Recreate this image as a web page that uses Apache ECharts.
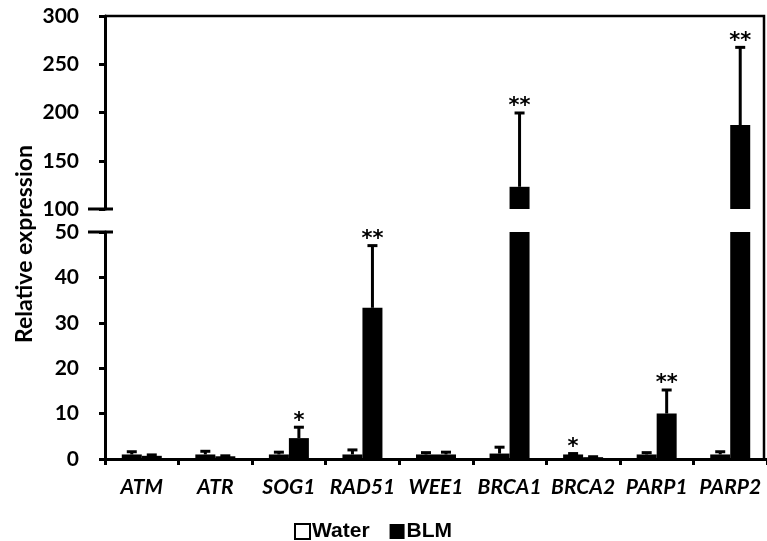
<!DOCTYPE html>
<html>
<head>
<meta charset="utf-8">
<script src="https://cdn.jsdelivr.net/npm/echarts@6/dist/echarts.min.js"></script>
<style>html,body{margin:0;padding:0;background:#fff}#c{width:767px;height:541px}</style>
</head>
<body>
<div id="c"></div>
<script>
// ---- data ----
const categories = ['ATM','ATR','SOG1','RAD51','WEE1','BRCA1','BRCA2','PARP1','PARP2'];
const waterMean = [1.0, 1.0, 1.0, 1.0, 1.0, 1.2, 1.0, 1.0, 1.0];
const waterErr  = [0.6, 0.7, 0.5, 1.0, 0.4, 1.4, 0.2, 0.4, 0.6];
const blmMean   = [0.7, 0.6, 4.6, 33.3, 1.0, 123, 0.4, 10.0, 187];
const blmErr    = [0.2, 0.1, 2.4, 13.7, 0.5, 76.5, 0.1, 5.2, 80.5];
const waterSig  = ['', '', '', '', '', '', '*', '', ''];
const blmSig    = ['', '', '*', '**', '', '**', '', '**', '**'];
const lowerTicks = [0, 10, 20, 30, 40, 50];
const upperTicks = [100, 150, 200, 250, 300];

// ---- layout ----
const L = 105, W = 666;
const upTop = 16, upH = 193, loTop = 232, loH = 227;
const BW = 20;
const labelFont = 'Lato';
const lowerMin = lowerTicks[0], lowerMax = lowerTicks[lowerTicks.length-1];
const upperMin = upperTicks[0], upperMax = upperTicks[upperTicks.length-1];

const chart = echarts.init(document.getElementById('c'), null, {renderer:'canvas'});

function errSeries(name, means, errs, sigs, offset, gridIdx, lo, hi) {
  return {
    type: 'custom', name: name + '_err', xAxisIndex: gridIdx, yAxisIndex: gridIdx,
    silent: true, clip: false, z: 5,
    data: categories.map((c, i) => [i, means[i], errs[i]]),
    renderItem: function (params, api) {
      const i = api.value(0), m = api.value(1), e = api.value(2);
      const sig = sigs[i];
      const top = m + e;
      const children = [];
      const lo2 = Math.max(m, lo), hi2 = Math.min(top, hi);
      const p0 = api.coord([i, lo2]);
      const x = p0[0] + offset;
      if (hi2 > lo2) {
        const p1 = api.coord([i, hi2]);
        children.push({type:'line', shape:{x1:x, y1:p0[1], x2:x, y2:p1[1]}, style:{stroke:'#000', lineWidth:3}});
      }
      if (top >= lo && top <= hi) {
        const pc = api.coord([i, top]);
        children.push({type:'line', shape:{x1:x-5, y1:pc[1], x2:x+5, y2:pc[1]}, style:{stroke:'#000', lineWidth:3}});
        if (sig) {
          children.push({type:'text', x:x, y:pc[1]-6, style:{text:sig, font:'bold 21px "DejaVu Sans"', fill:'#000', align:'center', verticalAlign:'middle'}});
        }
      }
      return {type:'group', children: children};
    }
  };
}

const axisLineStyle = {show:true, lineStyle:{color:'#000', width:3}};
const tickStyle = {show:true, length:6, lineStyle:{color:'#000', width:3}};
const yLabel = {color:'#000', fontFamily:labelFont, fontWeight:'bold', fontSize:21, margin:26};

const option = {
  animation: false,
  backgroundColor: '#fff',
  grid: [
    {left:L, width:W, top:upTop, height:upH},
    {left:L, width:W, top:loTop, height:loH}
  ],
  xAxis: [
    {type:'category', gridIndex:0, data:categories, show:false},
    {type:'category', gridIndex:1, data:categories,
     axisLine:axisLineStyle, axisTick:tickStyle,
     axisLabel:{interval:0, color:'#000', fontFamily:labelFont, fontWeight:'bold', fontStyle:'italic', fontSize:21, margin:18}}
  ],
  yAxis: [
    {type:'value', gridIndex:0, min:upperMin, max:upperMax, interval:50,
     axisLine:axisLineStyle, axisTick:tickStyle, splitLine:{show:false}, axisLabel:yLabel},
    {type:'value', gridIndex:1, min:lowerMin, max:lowerMax, interval:10,
     axisLine:axisLineStyle, axisTick:tickStyle, splitLine:{show:false}, axisLabel:yLabel}
  ],
  legend: {
    left: 289, top: 516, itemWidth: 15, itemHeight: 15, itemGap: 20, icon: 'rect',
    data: ['Water', 'BLM'],
    textStyle: {color:'#000', fontFamily:'Liberation Sans', fontWeight:'bold', fontSize:21, padding:[0,0,0,-3]}
  },
  series: [
    {name:'Water', type:'bar', xAxisIndex:1, yAxisIndex:1, data:waterMean, barWidth:BW, barGap:'0%',
     itemStyle:{color:'#fff', borderColor:'#000', borderWidth:3}},
    {name:'BLM', type:'bar', xAxisIndex:1, yAxisIndex:1, data:blmMean, barWidth:BW, barGap:'0%',
     itemStyle:{color:'#000', borderColor:'#000', borderWidth:0}},
    {name:'Water', type:'bar', xAxisIndex:0, yAxisIndex:0, data:waterMean.map(v => v > upperMin ? v : '-'), barWidth:BW, barGap:'0%',
     itemStyle:{color:'#fff', borderColor:'#000', borderWidth:3}},
    {name:'BLM', type:'bar', xAxisIndex:0, yAxisIndex:0, data:blmMean.map(v => v > upperMin ? v : '-'), barWidth:BW, barGap:'0%',
     itemStyle:{color:'#000', borderColor:'#000', borderWidth:0}},
    errSeries('Water', waterMean, waterErr, waterSig, -BW/2, 1, lowerMin, lowerMax),
    errSeries('BLM', blmMean, blmErr, blmSig, BW/2, 1, lowerMin, lowerMax),
    errSeries('Water', waterMean, waterErr, waterSig, -BW/2, 0, upperMin, upperMax),
    errSeries('BLM', blmMean, blmErr, blmSig, BW/2, 0, upperMin, upperMax)
  ],
  graphic: [
    {type:'polyline', z:10, shape:{points:[[L, upTop], [764, upTop], [764, loTop+loH]]}, style:{stroke:'#000', lineWidth:2.5, fill:null}},
    {type:'line', z:10, shape:{x1:88, y1:upTop+upH, x2:113, y2:upTop+upH}, style:{stroke:'#000', lineWidth:3}},
    {type:'line', z:10, shape:{x1:88, y1:loTop, x2:113, y2:loTop}, style:{stroke:'#000', lineWidth:3}},
    {type:'text', z:10, x:25, y:244, rotation:Math.PI/2,
     style:{text:'Relative expression', font:'bold 23px Lato', fill:'#000', align:'center', verticalAlign:'middle'}}
  ]
};
chart.setOption(option);
</script>
</body>
</html>
